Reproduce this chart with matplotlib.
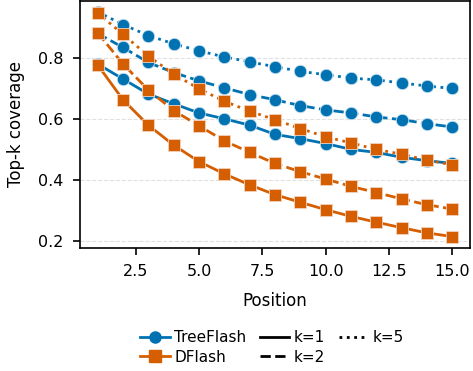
import numpy as np
import matplotlib
matplotlib.use("Agg")
import matplotlib.pyplot as plt
from matplotlib.lines import Line2D

positions = list(range(1, 16))

tree_k1 = [0.78, 0.731, 0.682, 0.650, 0.620, 0.601, 0.580, 0.550, 0.536, 0.520, 0.501, 0.491, 0.475, 0.464, 0.455]
tree_k2 = [0.88, 0.834, 0.785, 0.752, 0.725, 0.702, 0.680, 0.663, 0.644, 0.630, 0.620, 0.607, 0.598, 0.585, 0.574]
tree_k5 = [0.95, 0.909, 0.873, 0.846, 0.823, 0.803, 0.787, 0.771, 0.756, 0.745, 0.734, 0.728, 0.718, 0.708, 0.700]

dflash_k1 = [0.777, 0.663, 0.580, 0.515, 0.461, 0.421, 0.385, 0.353, 0.328, 0.304, 0.282, 0.263, 0.245, 0.228, 0.216]
dflash_k2 = [0.882, 0.780, 0.695, 0.628, 0.578, 0.529, 0.491, 0.455, 0.428, 0.404, 0.380, 0.360, 0.339, 0.320, 0.306]
dflash_k5 = [0.947, 0.877, 0.806, 0.747, 0.699, 0.658, 0.626, 0.598, 0.569, 0.542, 0.522, 0.501, 0.485, 0.466, 0.450]

blue = "#0072B2"
orange = "#D55E00"

fig = plt.figure(figsize=(4.73, 3.71), dpi=100)
ax = fig.add_axes([0.169, 0.332, 0.825, 0.666])

for vals, ls in [(tree_k1, "-"), (tree_k2, "--"), (tree_k5, ":")]:
    ax.plot(positions, vals, color=blue, linestyle=ls, linewidth=2, marker="o",
            markersize=9, markeredgecolor="#cfe3f0", markeredgewidth=0.6)
for vals, ls in [(dflash_k1, "-"), (dflash_k2, "--"), (dflash_k5, ":")]:
    ax.plot(positions, vals, color=orange, linestyle=ls, linewidth=2, marker="s",
            markersize=8.5, markeredgecolor="#f3d3c0", markeredgewidth=0.6)

ax.set_xlabel("Position", fontsize=12, labelpad=9)
ax.set_ylabel("Top-k coverage", fontsize=12, labelpad=9)
ax.tick_params(labelsize=11.5, width=1.2, length=5, pad=7)
ax.set_xticks([2.5, 5.0, 7.5, 10.0, 12.5, 15.0])
ax.set_yticks([0.2, 0.4, 0.6, 0.8])
ax.grid(axis="y", linestyle="--", color="#e0e0e0", linewidth=0.8)
ax.set_axisbelow(True)
for s in ax.spines.values():
    s.set_linewidth(1.2)

handles = [
    Line2D([], [], color=blue, marker="o", markersize=8, linewidth=2),
    Line2D([], [], color=orange, marker="s", markersize=8, linewidth=2),
    Line2D([], [], color="black", linestyle="-", linewidth=2),
    Line2D([], [], color="black", linestyle="--", linewidth=2),
    Line2D([], [], color="black", linestyle=":", linewidth=2),
]
labels = ["TreeFlash", "DFlash", "k=1", "k=2", "k=5"]
fig.legend(handles, labels, ncol=3, frameon=False, fontsize=11,
           loc="lower center", bbox_to_anchor=(0.575, -0.02),
           handlelength=1.9, columnspacing=0.9, handletextpad=0.3,
           labelspacing=0.3)

fig.savefig("out.png", dpi=100)
